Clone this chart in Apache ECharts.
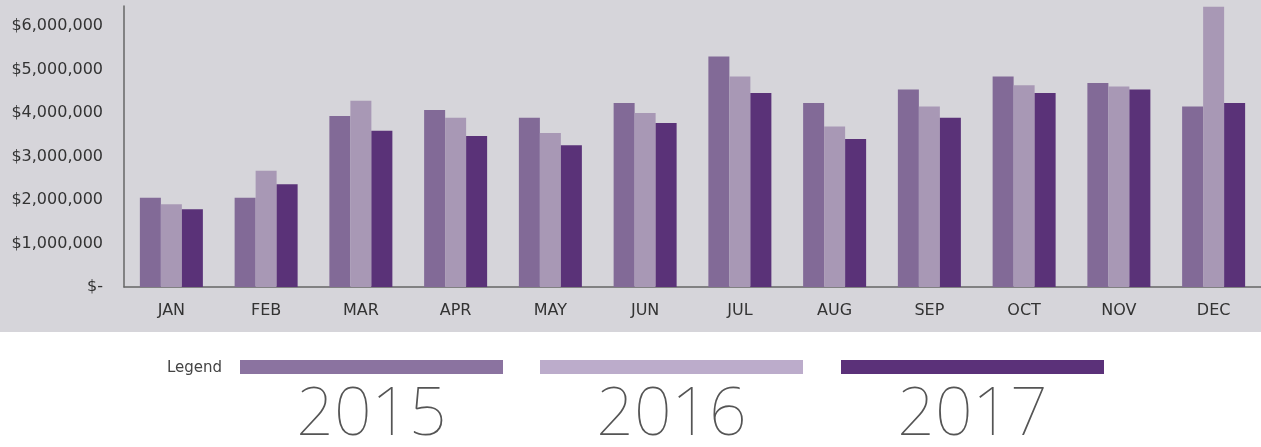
<!DOCTYPE html>
<html>
<head>
<meta charset="utf-8">
<script src="https://cdn.jsdelivr.net/npm/echarts@6/dist/echarts.min.js"></script>
<style>
  html, body { margin: 0; padding: 0; background: #fff; }
  #chart { width: 1261px; height: 447px; }
</style>
</head>
<body>
<div id="chart"></div>
<script>
// data
const months = ['JAN', 'FEB', 'MAR', 'APR', 'MAY', 'JUN', 'JUL', 'AUG', 'SEP', 'OCT', 'NOV', 'DEC'];
const years = ['2015', '2016', '2017'];
const sales2015 = [2050000, 2050000, 3930000, 4070000, 3890000, 4230000, 5300000, 4230000, 4540000, 4840000, 4690000, 4150000];
const sales2016 = [1900000, 2670000, 4280000, 3890000, 3540000, 4000000, 4840000, 3690000, 4150000, 4640000, 4610000, 6440000];
const sales2017 = [1790000, 2360000, 3590000, 3470000, 3260000, 3770000, 4460000, 3400000, 3890000, 4460000, 4540000, 4230000];
const yTickLabels = ['$-', '$1,000,000', '$2,000,000', '$3,000,000', '$4,000,000', '$5,000,000', '$6,000,000'];

const barColors = ['#826a97', '#a898b5', '#5a3278'];
const legendColors = ['#8b73a0', '#bcaccb', '#5b3179'];
const allSales = [sales2015, sales2016, sales2017];
const labelFont = '"DejaVu Sans", sans-serif';

const chart = echarts.init(document.getElementById('chart'));

// legend below the chart: bars + big thin year labels
const legendX = [240, 540, 841];
const legendW = 263;
const graphic = [
  { type: 'rect', z: -10, silent: true, shape: { x: 0, y: 0, width: 1261, height: 332 }, style: { fill: '#d6d5da' } },
  { type: 'text', x: 222, y: 368, style: { text: 'Legend', fontSize: 15, fontFamily: labelFont, fill: '#444', align: 'right', verticalAlign: 'middle' } }
];
years.forEach((y, i) => {
  graphic.push({ type: 'rect', shape: { x: legendX[i], y: 360, width: legendW, height: 14 }, style: { fill: legendColors[i] } });
  graphic.push({
    type: 'text', x: legendX[i] + legendW / 2, y: 416,
    style: { text: y, fontSize: 66, fontWeight: 100, fontFamily: '"Noto Sans", sans-serif', fill: '#555', align: 'center', verticalAlign: 'middle' }
  });
});

const option = {
  backgroundColor: '#fff',
  animation: false,
  grid: { left: 124, right: -5, top: 6, bottom: 160, containLabel: false },
  xAxis: {
    type: 'category',
    data: months,
    axisLine: { show: true, lineStyle: { color: '#666', width: 1.5 } },
    axisTick: { show: false },
    axisLabel: { fontSize: 16, color: '#333', margin: 16, fontFamily: labelFont }
  },
  yAxis: {
    type: 'value',
    min: 0,
    max: 6460000,
    interval: 1000000,
    splitLine: { show: false },
    axisTick: { show: false },
    axisLine: { show: true, lineStyle: { color: '#666', width: 1.5 } },
    axisLabel: {
      fontSize: 16, color: '#333', margin: 21, showMaxLabel: false,
      fontFamily: labelFont,
      formatter: (v) => yTickLabels[Math.round(v / 1000000)] || ''
    }
  },
  graphic: graphic,
  series: years.map((y, i) => ({
    name: y,
    type: 'bar',
    data: allSales[i],
    barWidth: 21,
    barGap: '0%',
    itemStyle: { color: barColors[i] }
  }))
};

chart.setOption(option);
</script>
</body>
</html>
